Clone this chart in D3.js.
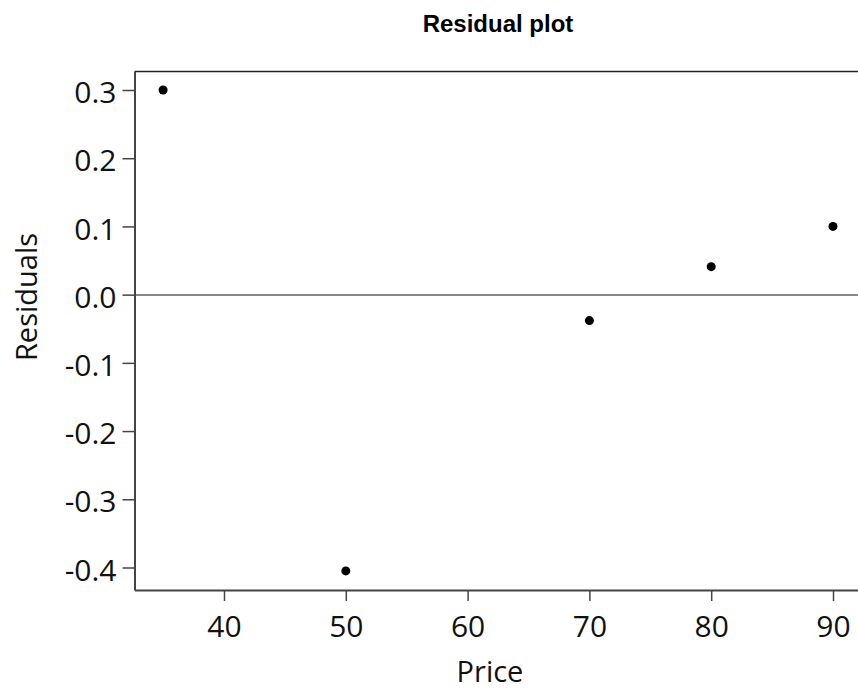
<!DOCTYPE html>
<html>
<head>
<meta charset="utf-8">
<script src="https://cdn.jsdelivr.net/npm/d3@7"></script>
<style>
  body { margin: 0; background: #fff; }
  svg { display: block; }
</style>
</head>
<body>
<div id="chart"></div>
<script>
// data
const price = [35, 50, 70, 80, 90]
const residuals = [0.3, -0.405, -0.038, 0.041, 0.1]
const xTickValues = [40, 50, 60, 70, 80, 90]
const yTickValues = [0.3, 0.2, 0.1, 0.0, -0.1, -0.2, -0.3, -0.4]

const width = 858
const height = 692
const margin = { left: 134.5, right: 0, top: 71.5, bottom: 102 }
const innerWidth = width - margin.left - margin.right
const innerHeight = height - margin.top - margin.bottom

const svg = d3.select('#chart')
  .append('svg')
  .attr('width', width)
  .attr('height', height)

const g = svg.append('g')
  .attr('transform', `translate(${margin.left},${margin.top})`)

// 40 -> 224px, 90 -> 833px (12.18 px per unit)
const pxPerUnit = 12.18
const xScale = d3.scaleLinear()
  .domain([40 - (224 - 134.5) / pxPerUnit, 90 + (858 - 833) / pxPerUnit])
  .range([0, innerWidth])

// 0.3 -> 90px, -0.4 -> 567.5px
const yScale = d3.scaleLinear()
  .domain([0.3 + (90 - 71.5) / 682, -0.4 - (590 - 567.5) / 682])
  .range([0, innerHeight])

const axisColor = '#444'
const tickFont = "'Open Sans', 'Noto Sans', sans-serif"
const fmt = d3.format('.1f')

// top border
g.append('line')
  .attr('x1', 0).attr('x2', innerWidth)
  .attr('y1', 0).attr('y2', 0)
  .attr('stroke', '#222')
  .attr('stroke-width', 1.5)

// zero line
g.append('line')
  .attr('x1', 0).attr('x2', innerWidth)
  .attr('y1', Math.round(yScale(0)) + 0.5).attr('y2', Math.round(yScale(0)) + 0.5)
  .attr('stroke', '#111')
  .attr('stroke-width', 1)

const xAxis = d3.axisBottom(xScale)
  .tickValues(xTickValues)
  .tickFormat(d3.format('d'))
  .tickSize(11)
  .tickPadding(15)
  .tickSizeOuter(0)

const yAxis = d3.axisLeft(yScale)
  .tickValues(yTickValues)
  .tickFormat(d => fmt(d).replace('−', '-'))
  .tickSize(12)
  .tickPadding(6)
  .tickSizeOuter(0)

const xAxisG = g.append('g')
  .attr('transform', `translate(0,${innerHeight})`)
  .call(xAxis)

const yAxisG = g.append('g').call(yAxis)
yAxisG.selectAll('.tick text').attr('dy', '0.42em')

;[xAxisG, yAxisG].forEach(a => {
  a.select('.domain').attr('stroke', axisColor).attr('stroke-width', 2)
  a.selectAll('.tick line').attr('stroke', axisColor).attr('stroke-width', 1.5)
  a.selectAll('.tick text')
    .attr('fill', '#111')
    .style('font-family', tickFont)
    .style('font-size', '30px')
})

// points
g.selectAll('.dot')
  .data(price.map((p, i) => ({ p, r: residuals[i] })))
  .enter()
  .append('circle')
  .attr('class', 'dot')
  .attr('cx', d => xScale(d.p))
  .attr('cy', d => yScale(d.r))
  .attr('r', 4.5)
  .attr('fill', '#000')

// title
svg.append('text')
  .attr('x', 498)
  .attr('y', 32)
  .attr('text-anchor', 'middle')
  .style('font-family', "'Liberation Sans', Arial, sans-serif")
  .style('font-weight', 'bold')
  .style('font-size', '24px')
  .text('Residual plot')

// axis labels
svg.append('text')
  .attr('x', 490)
  .attr('y', 682)
  .attr('text-anchor', 'middle')
  .style('font-family', tickFont)
  .style('font-size', '29px')
  .attr('fill', '#111')
  .text('Price')

svg.append('text')
  .attr('transform', 'translate(37,297) rotate(-90)')
  .attr('text-anchor', 'middle')
  .style('font-family', tickFont)
  .style('font-size', '29px')
  .attr('fill', '#111')
  .text('Residuals')
</script>
</body>
</html>
